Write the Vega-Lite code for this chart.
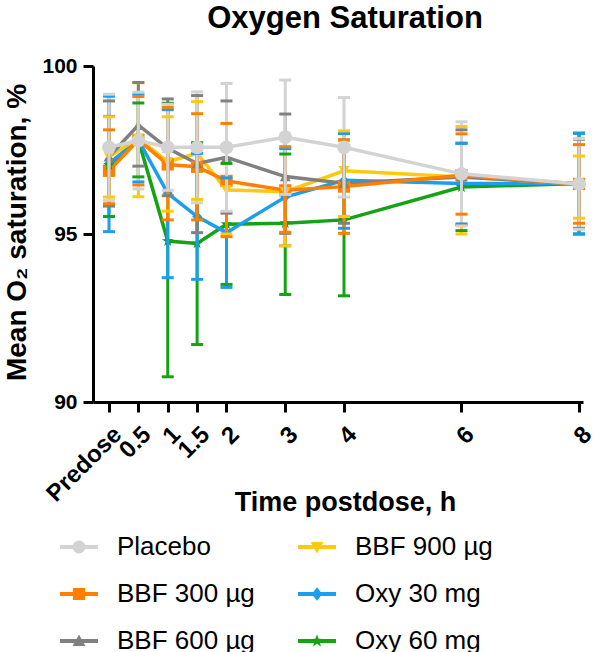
{
  "$schema": "https://vega.github.io/schema/vega-lite/v6.json",
  "width": 490,
  "height": 336,
  "autosize": {"type": "none"},
  "padding": {"left": 93, "top": 66, "right": 14, "bottom": 250},
  "title": {"text": "Oxygen Saturation", "fontSize": 31, "font": "Liberation Sans", "fontWeight": "bold", "anchor": "middle", "frame": "group", "baseline": "alphabetic", "offset": -4, "dx": 7, "color": "black"},
  "config": {"view": {"stroke": null}, "font": "Liberation Sans"},
  "data": {"values": [
    {"group": "Oxy 60 mg", "time": 0, "mean": 97.05, "lo": 95.52, "hi": 98.5},
    {"group": "Oxy 60 mg", "time": 0.5, "mean": 97.8, "lo": 96.7, "hi": 98.9},
    {"group": "Oxy 60 mg", "time": 1, "mean": 94.79, "lo": 90.75, "hi": 98.89},
    {"group": "Oxy 60 mg", "time": 1.5, "mean": 94.72, "lo": 91.71, "hi": 97.72},
    {"group": "Oxy 60 mg", "time": 2, "mean": 95.29, "lo": 93.5, "hi": 97.1},
    {"group": "Oxy 60 mg", "time": 3, "mean": 95.32, "lo": 93.2, "hi": 97.38},
    {"group": "Oxy 60 mg", "time": 4, "mean": 95.42, "lo": 93.16, "hi": 97.6},
    {"group": "Oxy 60 mg", "time": 6, "mean": 96.4, "lo": 95.1, "hi": 97.7},
    {"group": "Oxy 60 mg", "time": 8, "mean": 96.5, "lo": 95.0, "hi": 98.0},
    {"group": "Oxy 30 mg", "time": 0, "mean": 97.1, "lo": 95.07, "hi": 99.1},
    {"group": "Oxy 30 mg", "time": 0.5, "mean": 97.8, "lo": 96.55, "hi": 99.16},
    {"group": "Oxy 30 mg", "time": 1, "mean": 96.21, "lo": 93.7, "hi": 98.7},
    {"group": "Oxy 30 mg", "time": 1.5, "mean": 95.52, "lo": 93.65, "hi": 97.4},
    {"group": "Oxy 30 mg", "time": 2, "mean": 95.04, "lo": 93.41, "hi": 96.67},
    {"group": "Oxy 30 mg", "time": 3, "mean": 96.1, "lo": 94.65, "hi": 97.54},
    {"group": "Oxy 30 mg", "time": 4, "mean": 96.6, "lo": 95.17, "hi": 97.99},
    {"group": "Oxy 30 mg", "time": 6, "mean": 96.5, "lo": 95.3, "hi": 97.7},
    {"group": "Oxy 30 mg", "time": 8, "mean": 96.5, "lo": 95.0, "hi": 98.0},
    {"group": "BBF 900 µg", "time": 0, "mean": 97.3, "lo": 96.1, "hi": 98.49},
    {"group": "BBF 900 µg", "time": 0.5, "mean": 97.85, "lo": 96.11, "hi": 99.5},
    {"group": "BBF 900 µg", "time": 1, "mean": 97.15, "lo": 95.68, "hi": 98.49},
    {"group": "BBF 900 µg", "time": 1.5, "mean": 97.4, "lo": 96.03, "hi": 98.94},
    {"group": "BBF 900 µg", "time": 2, "mean": 96.31, "lo": 95.0, "hi": 97.6},
    {"group": "BBF 900 µg", "time": 3, "mean": 96.26, "lo": 94.65, "hi": 97.88},
    {"group": "BBF 900 µg", "time": 4, "mean": 96.88, "lo": 95.52, "hi": 98.07},
    {"group": "BBF 900 µg", "time": 6, "mean": 96.7, "lo": 95.0, "hi": 98.2},
    {"group": "BBF 900 µg", "time": 8, "mean": 96.49, "lo": 95.47, "hi": 97.32},
    {"group": "BBF 600 µg", "time": 0, "mean": 97.3, "lo": 95.83, "hi": 98.96},
    {"group": "BBF 600 µg", "time": 0.5, "mean": 98.24, "lo": 97.02, "hi": 99.51},
    {"group": "BBF 600 µg", "time": 1, "mean": 97.55, "lo": 96.14, "hi": 99.02},
    {"group": "BBF 600 µg", "time": 1.5, "mean": 97.1, "lo": 95.04, "hi": 99.12},
    {"group": "BBF 600 µg", "time": 2, "mean": 97.28, "lo": 95.62, "hi": 98.96},
    {"group": "BBF 600 µg", "time": 3, "mean": 96.71, "lo": 95.02, "hi": 98.57},
    {"group": "BBF 600 µg", "time": 4, "mean": 96.51, "lo": 95.32, "hi": 97.8},
    {"group": "BBF 600 µg", "time": 6, "mean": 96.7, "lo": 95.27, "hi": 98.1},
    {"group": "BBF 600 µg", "time": 8, "mean": 96.49, "lo": 95.17, "hi": 97.82},
    {"group": "BBF 300 µg", "time": 0, "mean": 96.88, "lo": 95.9, "hi": 98.1},
    {"group": "BBF 300 µg", "time": 0.5, "mean": 97.8, "lo": 96.46, "hi": 99.09},
    {"group": "BBF 300 µg", "time": 1, "mean": 97.07, "lo": 95.42, "hi": 98.77},
    {"group": "BBF 300 µg", "time": 1.5, "mean": 97.0, "lo": 95.42, "hi": 98.58},
    {"group": "BBF 300 µg", "time": 2, "mean": 96.58, "lo": 94.92, "hi": 98.29},
    {"group": "BBF 300 µg", "time": 3, "mean": 96.3, "lo": 95.05, "hi": 97.6},
    {"group": "BBF 300 µg", "time": 4, "mean": 96.41, "lo": 95.02, "hi": 97.8},
    {"group": "BBF 300 µg", "time": 6, "mean": 96.75, "lo": 95.59, "hi": 97.98},
    {"group": "BBF 300 µg", "time": 8, "mean": 96.49, "lo": 95.32, "hi": 97.66},
    {"group": "Placebo", "time": 0, "mean": 97.58, "lo": 96.0, "hi": 99.16},
    {"group": "Placebo", "time": 0.5, "mean": 97.78, "lo": 96.34, "hi": 99.22},
    {"group": "Placebo", "time": 1, "mean": 97.58, "lo": 96.3, "hi": 98.86},
    {"group": "Placebo", "time": 1.5, "mean": 97.58, "lo": 95.93, "hi": 99.23},
    {"group": "Placebo", "time": 2, "mean": 97.58, "lo": 95.68, "hi": 99.48},
    {"group": "Placebo", "time": 3, "mean": 97.88, "lo": 96.18, "hi": 99.58},
    {"group": "Placebo", "time": 4, "mean": 97.58, "lo": 96.1, "hi": 99.06},
    {"group": "Placebo", "time": 6, "mean": 96.79, "lo": 95.24, "hi": 98.34},
    {"group": "Placebo", "time": 8, "mean": 96.49, "lo": 95.14, "hi": 97.84}
  ]},
  "layer": [
    {
      "mark": {"type": "line", "strokeWidth": 3.5},
      "encoding": {
        "x": {"field": "time", "type": "quantitative", "scale": {"domain": [-0.272, 8.068], "nice": false, "zero": false},
          "axis": {"values": [0, 0.5, 1, 1.5, 2, 3, 4, 6, 8], "labelExpr": "datum.value == 0 ? 'Predose' : '' + datum.value", "labelAngle": -45, "labelFontSize": 24, "labelFontWeight": "bold", "labelFont": "Liberation Sans", "labelColor": "black", "labelPadding": 10, "labelOverlap": false, "labelFlush": false, "labelBound": false, "tickSize": 10, "tickWidth": 3, "tickColor": "black", "domainWidth": 3, "domainColor": "black", "grid": false, "title": "Time postdose, h", "titleFontSize": 27, "titleFontWeight": "bold", "titleFont": "Liberation Sans", "titleColor": "black", "titleX": 252, "titleY": 108, "titleAlign": "center", "titleBaseline": "alphabetic"}},
        "y": {"field": "mean", "type": "quantitative", "scale": {"domain": [90, 100], "nice": false, "zero": false},
          "axis": {"values": [90, 95, 100], "labelFontSize": 21, "labelFontWeight": "bold", "labelFont": "Liberation Sans", "labelColor": "black", "labelPadding": 6, "labelFlush": false, "tickSize": 10, "tickWidth": 3, "tickColor": "black", "domainWidth": 3, "domainColor": "black", "grid": false, "title": "Mean O₂ saturation, %", "titleFontSize": 28, "titleFontWeight": "bold", "titleFont": "Liberation Sans", "titleColor": "black", "titleAngle": 270, "titleX": -68, "titleY": 166, "titleAlign": "center", "titleBaseline": "alphabetic"}},
        "color": {"field": "group", "type": "nominal", "scale": {"domain": ["Placebo", "BBF 300 µg", "BBF 600 µg", "BBF 900 µg", "Oxy 30 mg", "Oxy 60 mg"], "range": ["#D3D3D3", "#FF8000", "#808080", "#FFC90E", "#1B9EF0", "#13A313"]},
          "legend": {"orient": "none", "legendX": -33, "legendY": 462, "columns": 2, "columnPadding": 43, "rowPadding": 15, "title": null, "labelFontSize": 26, "labelFont": "Liberation Sans", "labelColor": "black", "labelOffset": 19, "symbolSize": 1444, "symbolStrokeWidth": 0, "symbolOpacity": 1, "padding": 0, "gridAlign": "each"}}
      }
    },
    {
      "mark": {"type": "point", "filled": true, "opacity": 0, "size": 100},
      "encoding": {
        "x": {"field": "time", "type": "quantitative"},
        "y": {"field": "mean", "type": "quantitative"},
        "color": {"field": "group", "type": "nominal"},
        "shape": {"field": "group", "type": "nominal", "scale": {"domain": ["Placebo", "BBF 300 µg", "BBF 600 µg", "BBF 900 µg", "Oxy 30 mg", "Oxy 60 mg"], "range": [
          "M-1,-0.1H1V0.1H-1ZM-0.34,0A0.34,0.34,0,1,1,0.34,0A0.34,0.34,0,1,1,-0.34,0Z",
          "M-1,-0.1H1V0.1H-1ZM-0.32,-0.32H0.32V0.32H-0.32Z",
          "M-1,-0.1H1V0.1H-1ZM0,-0.34L0.34,0.26H-0.34Z",
          "M-1,-0.1H1V0.1H-1ZM0,0.34L-0.34,-0.26H0.34Z",
          "M-1,-0.1H1V0.1H-1ZM0,-0.36L0.28,0L0,0.36L-0.28,0Z",
          "M-1,-0.1H1V0.1H-1ZM0,-0.36L0.085,-0.117L0.342,-0.111L0.137,0.045L0.212,0.291L0,0.144L-0.212,0.291L-0.137,0.045L-0.342,-0.111L-0.085,-0.117Z"
        ]}}
      }
    },
    {
      "transform": [{"filter": "datum.group === 'BBF 300 µg'"}],
      "mark": {"type": "point", "filled": true, "opacity": 1, "shape": "square", "size": 150},
      "encoding": {"x": {"field": "time", "type": "quantitative"}, "y": {"field": "mean", "type": "quantitative"}, "color": {"field": "group", "type": "nominal"}}
    },
    {
      "transform": [{"filter": "datum.group === 'BBF 600 µg'"}],
      "mark": {"type": "point", "filled": true, "opacity": 1, "shape": "triangle-up", "size": 120},
      "encoding": {"x": {"field": "time", "type": "quantitative"}, "y": {"field": "mean", "type": "quantitative"}, "color": {"field": "group", "type": "nominal"}}
    },
    {
      "transform": [{"filter": "datum.group === 'BBF 900 µg'"}],
      "mark": {"type": "point", "filled": true, "opacity": 1, "shape": "triangle-down", "size": 120},
      "encoding": {"x": {"field": "time", "type": "quantitative"}, "y": {"field": "mean", "type": "quantitative"}, "color": {"field": "group", "type": "nominal"}}
    },
    {
      "transform": [{"filter": "datum.group === 'Oxy 30 mg'"}],
      "mark": {"type": "point", "filled": true, "opacity": 1, "shape": "diamond", "size": 100},
      "encoding": {"x": {"field": "time", "type": "quantitative"}, "y": {"field": "mean", "type": "quantitative"}, "color": {"field": "group", "type": "nominal"}}
    },
    {
      "transform": [{"filter": "datum.group === 'Oxy 60 mg'"}],
      "mark": {"type": "point", "filled": true, "opacity": 1, "shape": "M0,-1L0.235,-0.324L0.951,-0.309L0.38,0.124L0.588,0.809L0,0.4L-0.588,0.809L-0.38,0.124L-0.951,-0.309L-0.235,-0.324Z", "size": 150},
      "encoding": {"x": {"field": "time", "type": "quantitative"}, "y": {"field": "mean", "type": "quantitative"}, "color": {"field": "group", "type": "nominal"}}
    },
    {
      "mark": {"type": "rule", "strokeWidth": 3},
      "encoding": {
        "x": {"field": "time", "type": "quantitative"},
        "y": {"field": "lo", "type": "quantitative"},
        "y2": {"field": "hi"},
        "color": {"field": "group", "type": "nominal"}
      }
    },
    {
      "mark": {"type": "point", "shape": "stroke", "filled": false, "strokeWidth": 3, "size": 144, "opacity": 1},
      "encoding": {
        "x": {"field": "time", "type": "quantitative"},
        "y": {"field": "lo", "type": "quantitative"},
        "color": {"field": "group", "type": "nominal"}
      }
    },
    {
      "mark": {"type": "point", "shape": "stroke", "filled": false, "strokeWidth": 3, "size": 144, "opacity": 1},
      "encoding": {
        "x": {"field": "time", "type": "quantitative"},
        "y": {"field": "hi", "type": "quantitative"},
        "color": {"field": "group", "type": "nominal"}
      }
    },
    {
      "transform": [{"filter": "datum.group === 'Placebo'"}],
      "mark": {"type": "point", "filled": true, "opacity": 1, "shape": "circle", "size": 190},
      "encoding": {
        "x": {"field": "time", "type": "quantitative"},
        "y": {"field": "mean", "type": "quantitative"},
        "color": {"field": "group", "type": "nominal"}
      }
    }
  ]
}
